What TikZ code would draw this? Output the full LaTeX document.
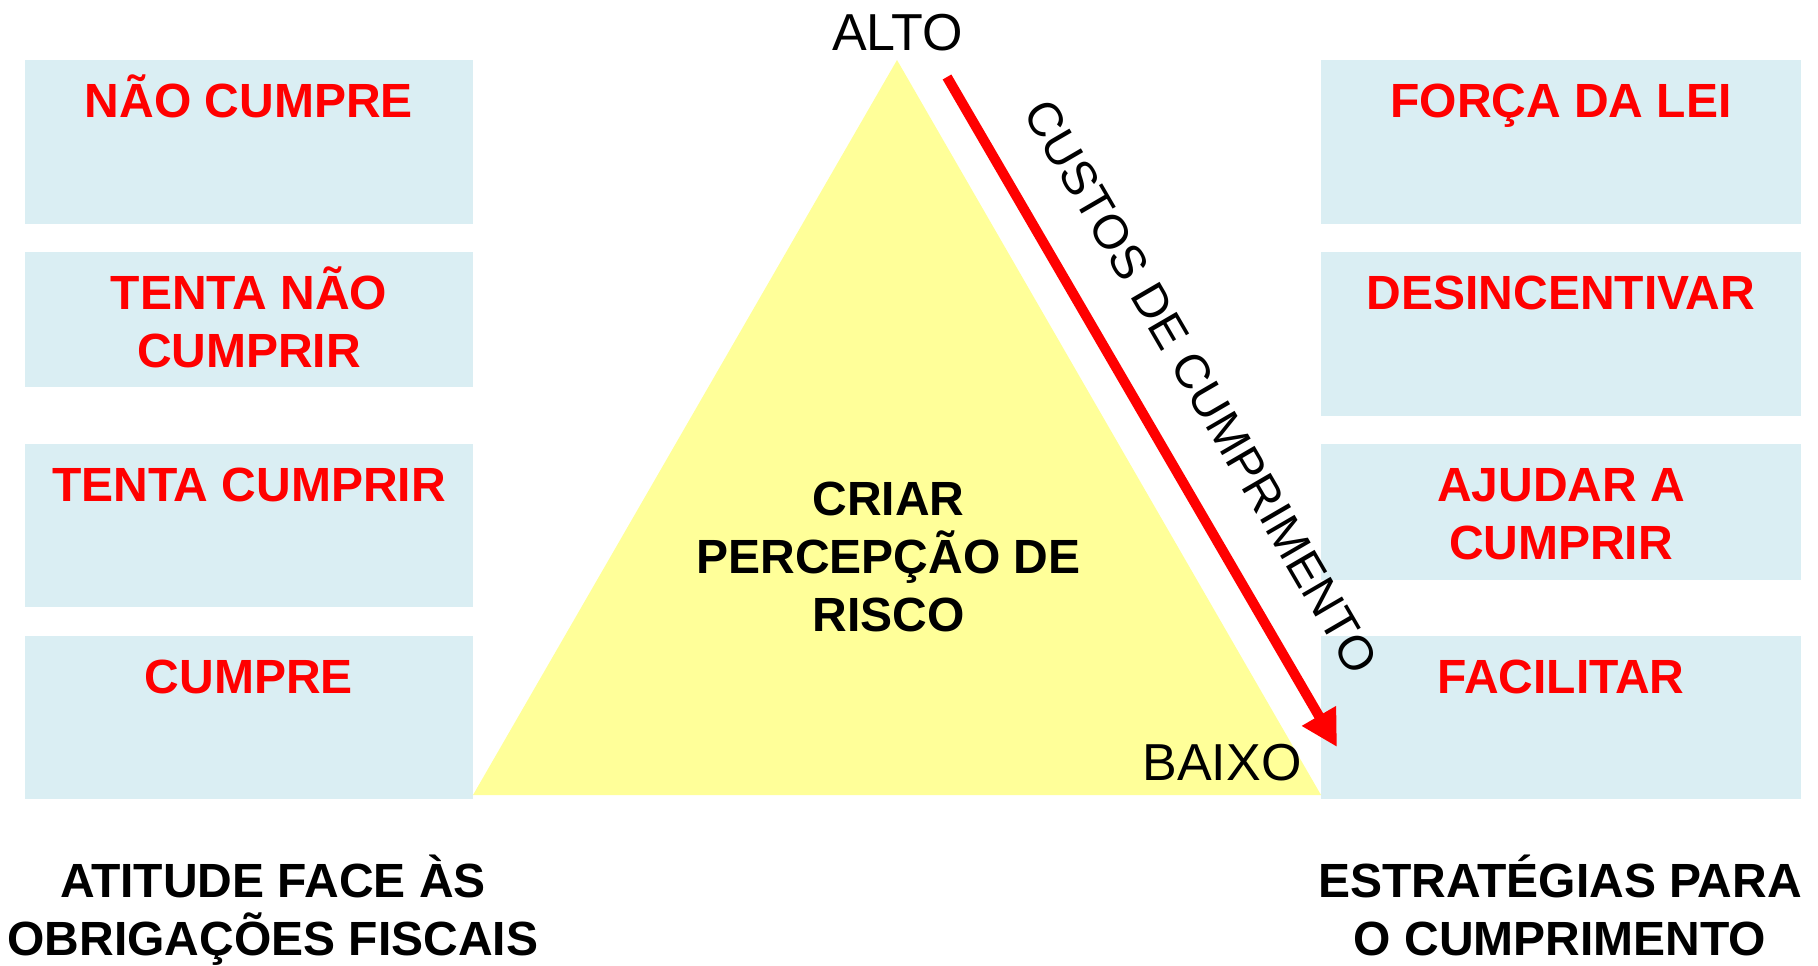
\documentclass[tikz,border=0pt]{standalone}
\usepackage{fontspec}
\setmainfont{Liberation Sans}
\usepackage{tikz}
\usetikzlibrary{arrows.meta}

\definecolor{boxblue}{HTML}{DAEEF3}
\definecolor{triyellow}{HTML}{FFFF99}
\definecolor{costred}{HTML}{FF0000}

\tikzset{
    boxtxt/.style={anchor=base, align=center, inner sep=0pt, text=costred,
        font=\fontsize{24}{29}\selectfont\bfseries},
    bigtxt/.style={anchor=base, align=center, inner sep=0pt,
        font=\fontsize{24}{29}\selectfont\bfseries},
    plaintxt/.style={anchor=base, inner sep=0pt, font=\fontsize{26}{31}\selectfont}
}

\begin{document}
\begin{tikzpicture}[x=0.5pt, y=-0.5pt]
    \useasboundingbox (0,0) rectangle (1818,965);

    \coordinate (T) at (897, 60);
    \coordinate (BL) at (473, 795);
    \coordinate (BR) at (1321, 795);
    \coordinate (S) at (947, 77);
    \coordinate (E) at (1337, 747);

    % boxes on both sides
    \foreach \ya/\yb in {60/224, 252/387, 444/607, 636/799}
        \fill[boxblue] (25,\ya) rectangle (473,\yb);
    \foreach \ya/\yb in {60/224, 252/416, 444/580, 636/799}
        \fill[boxblue] (1321,\ya) rectangle (1801,\yb);

    \fill[triyellow] (BL) -- (T) -- (BR) -- cycle;

    \draw[costred, line width=5pt, -{Triangle[length=18pt, width=18.5pt]}] (S) -- (E)
        node[pos=0.51, sloped, above=21pt, inner sep=0pt, font=\fontsize{24}{29}\selectfont, text=black] (custos) {CUSTOS DE CUMPRIMENTO};

    \node[plaintxt] (alto) at (897.5, 50) {ALTO};
    \node[plaintxt] (baixo) at (1222, 780) {BAIXO};

    % multi-line texts: y is the baseline of the last line
    \node[boxtxt] (naocumpre) at (249, 117) {NÃO CUMPRE};
    \node[boxtxt] (tentanao) at (249, 367) {TENTA NÃO\\CUMPRIR};
    \node[boxtxt] (tentacumprir) at (249, 501) {TENTA CUMPRIR};
    \node[boxtxt] (cumpre) at (249, 693) {CUMPRE};

    \node[boxtxt] (forca) at (1561, 117) {FORÇA DA LEI};
    \node[boxtxt] (desincentivar) at (1561, 309) {DESINCENTIVAR};
    \node[boxtxt] (ajudar) at (1561, 559) {AJUDAR A\\CUMPRIR};
    \node[boxtxt] (facilitar) at (1561, 693) {FACILITAR};

    \node[bigtxt] (risco) at (888.5, 631) {CRIAR\\PERCEPÇÃO DE\\RISCO};

    \node[bigtxt] (atitude) at (273, 955) {ATITUDE FACE ÀS\\OBRIGAÇÕES FISCAIS};
    \node[bigtxt] (estrategias) at (1560, 955) {ESTRATÉGIAS PARA\\O CUMPRIMENTO};
\end{tikzpicture}
\end{document}
